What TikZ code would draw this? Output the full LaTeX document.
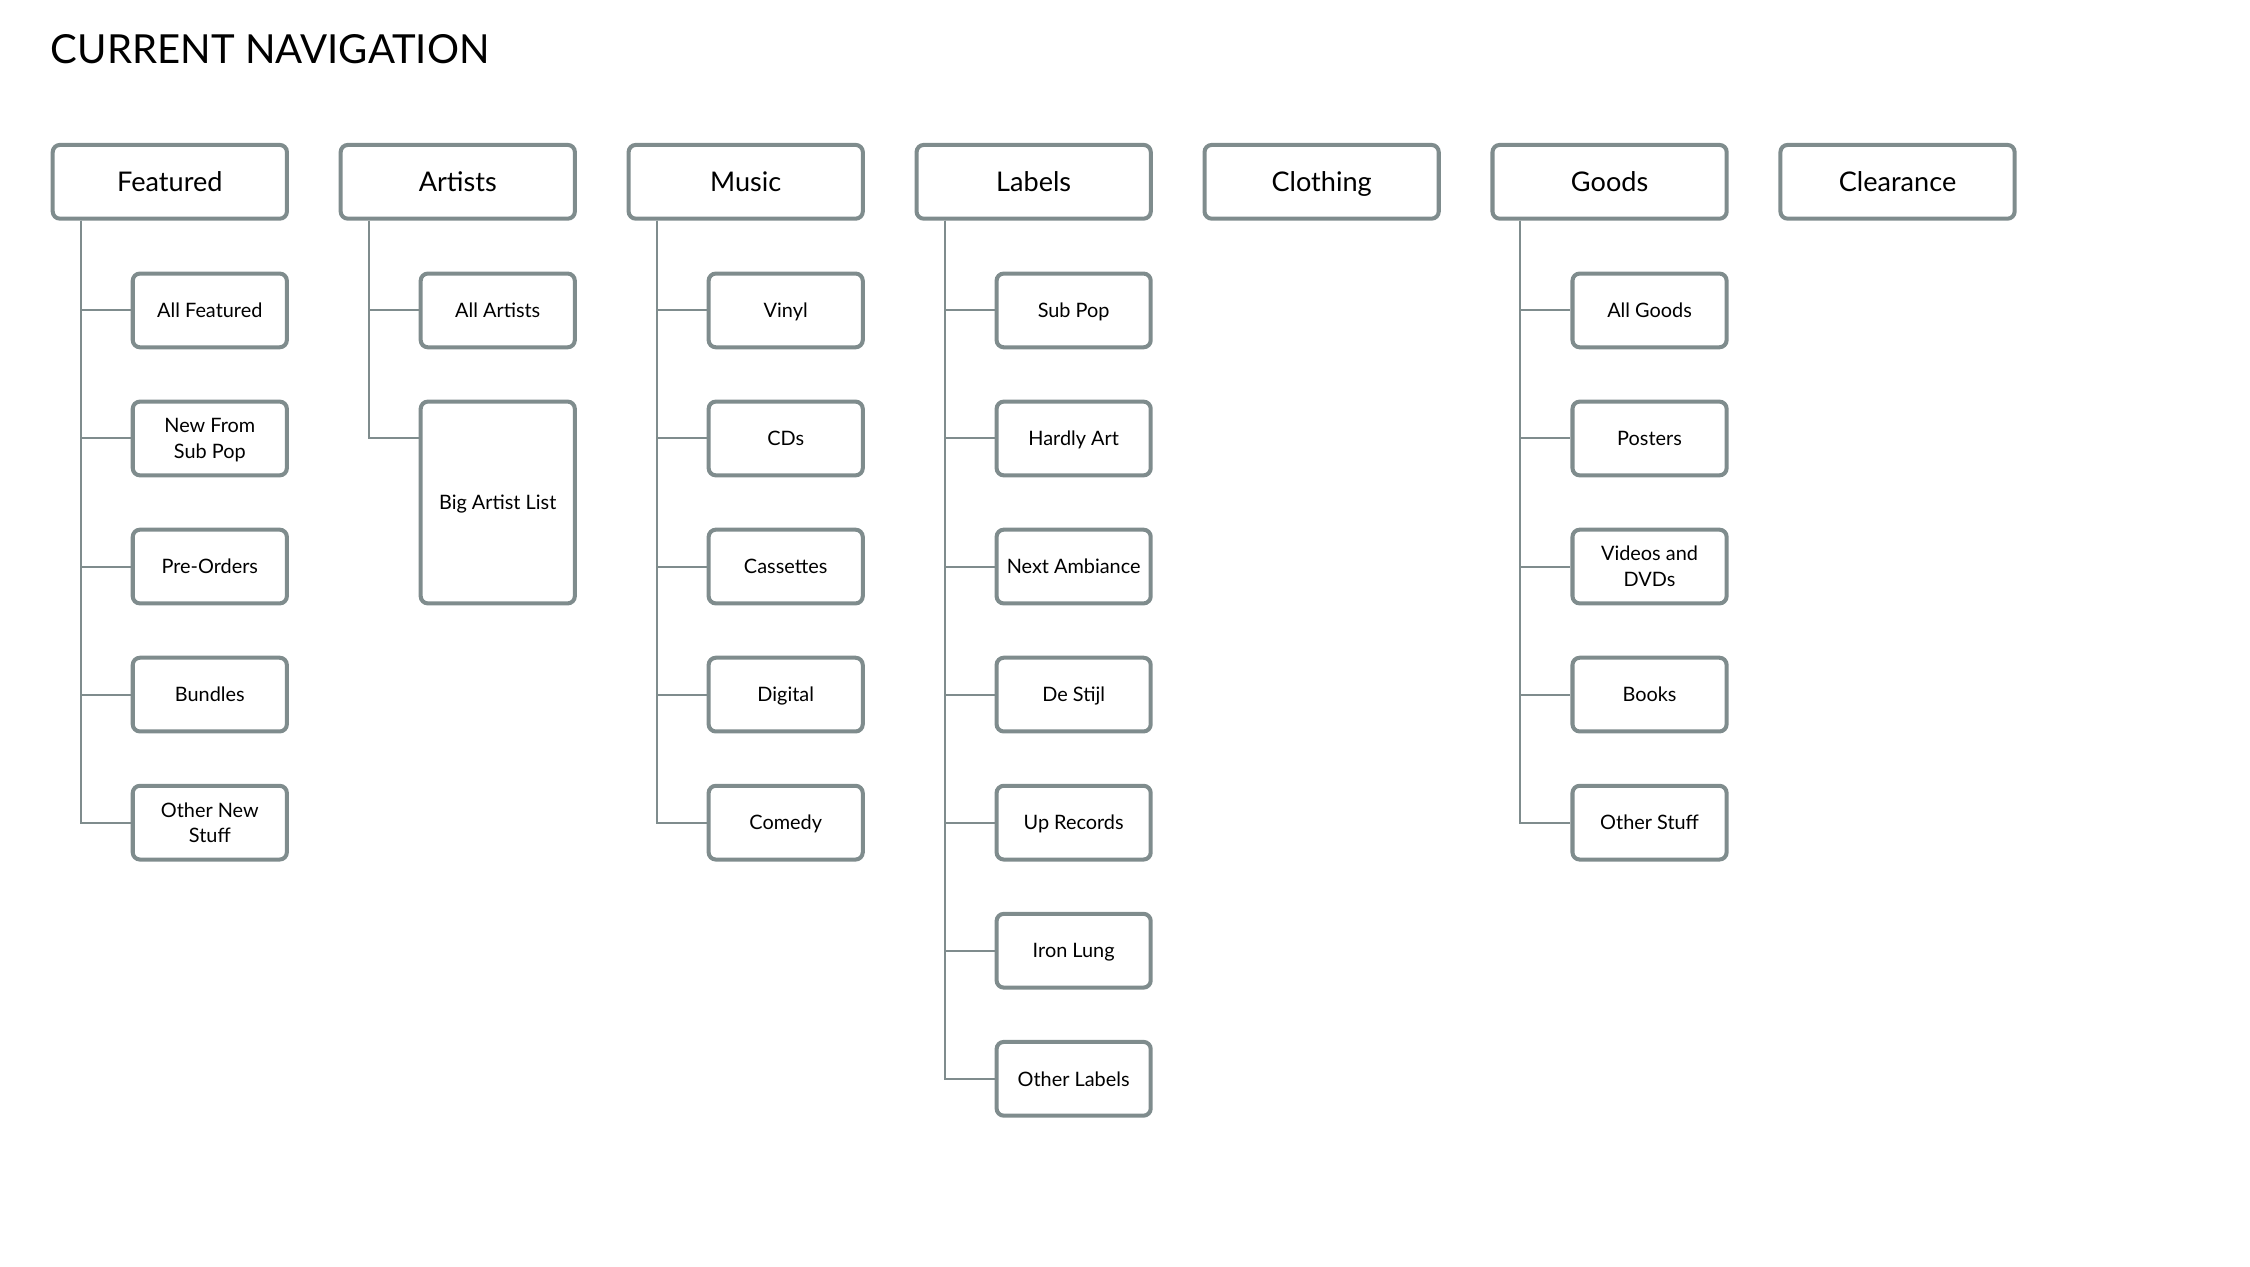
\documentclass[tikz,border=0pt]{standalone}
\usepackage{fontspec}
\setmainfont{Lato}
\usetikzlibrary{positioning}
\definecolor{navgray}{HTML}{7F8C8D}

\begin{document}
\begin{tikzpicture} [
        x = 0.5pt, y = -0.5pt,
        topbox/.style = { draw = navgray, line width = 1.4pt, rounded corners = 2.5pt, minimum width = 81.3pt, minimum height = 25.6pt, inner sep = 0, text depth = 0pt, font = \fontsize{9.4}{11}\selectfont },
        subbox/.style = { draw = navgray, line width = 1.4pt, rounded corners = 2.5pt, minimum width = 53.5pt, minimum height = 25.6pt, inner sep = 0, text depth = 0pt, align = center, font = \fontsize{6.9}{9}\selectfont },
        link/.style = { draw = navgray, line width = 0.7pt }
        ]
        \useasboundingbox (0,0) rectangle (1562,879);

        \node [anchor = base west, inner sep = 0, font = \fontsize{13.9}{17}\selectfont] (title) at (35,44) {CURRENT NAVIGATION};

        % top level
        \foreach \name/\txt [count = \i from 0] in {feat/Featured, art/Artists, mus/Music, lab/Labels, cloth/Clothing, goods/Goods, clear/Clearance}
            \node [topbox] (\name) at (117.9 + 199.9*\i, 126.2) {\txt};

        % second level
        \foreach \txt [count = \j] in {All Featured, {New From\\Sub Pop}, Pre-Orders, Bundles, {Other New\\Stuff}}
            \node [subbox] (feat-\j) at ([shift = {(27.75, 89.3 + 88.9*\j - 88.9)}] feat) {\txt};
        \node [subbox] (art-1) at ([shift = {(27.75, 89.3)}] art) {All Artists};
        \node [subbox, minimum height = 70.05pt] (art-2) at ([shift = {(27.75, 222.65)}] art) {Big Artist List};
        \foreach \txt [count = \j] in {Vinyl, CDs, Cassettes, Digital, Comedy}
            \node [subbox] (mus-\j) at ([shift = {(27.75, 89.3 + 88.9*\j - 88.9)}] mus) {\txt};
        \foreach \txt [count = \j] in {Sub Pop, Hardly Art, Next Ambiance, De Stijl, Up Records, Iron Lung, Other Labels}
            \node [subbox] (lab-\j) at ([shift = {(27.75, 89.3 + 88.9*\j - 88.9)}] lab) {\txt};
        \foreach \txt [count = \j] in {All Goods, Posters, {Videos and\\DVDs}, Books, Other Stuff}
            \node [subbox] (goods-\j) at ([shift = {(27.75, 89.3 + 88.9*\j - 88.9)}] goods) {\txt};

        % connectors
        \foreach \name/\n in {feat/5, art/1, mus/5, lab/7, goods/5} {
            \coordinate (\name-t) at ([shift = {(20.8, 0)}] \name.south west);
            \foreach \j in {1,...,\n}
                \draw [link] (\name-t) |- (\name-\j.west);
        }
        \draw [link] (art-t) |- ([shift = {(0, 27)}] art-2.north west);
    \end{tikzpicture}
\end{document}
